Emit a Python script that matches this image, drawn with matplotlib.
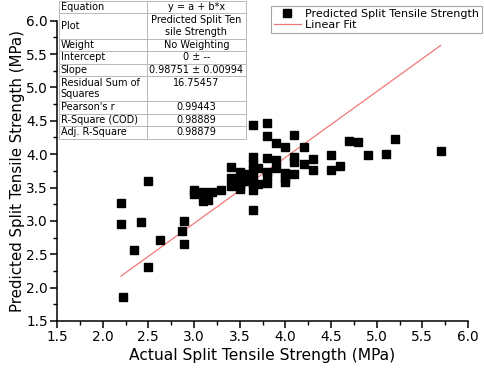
import numpy as np
import matplotlib
matplotlib.use("Agg")
import matplotlib.pyplot as plt
from matplotlib.table import Table

# data
actual = [2.2, 2.2, 2.22, 2.34, 2.42, 2.5, 2.5, 2.63, 2.87, 2.89, 2.89,
          3.0, 3.0, 3.1, 3.1, 3.15, 3.2, 3.3,
          3.4, 3.4, 3.4,
          3.5, 3.5, 3.5, 3.5,
          3.59, 3.59,
          3.65, 3.65, 3.65, 3.65, 3.65, 3.65, 3.65, 3.65,
          3.7, 3.7,
          3.8, 3.8, 3.8, 3.8, 3.8, 3.8,
          3.9, 3.9, 3.9,
          4.0, 4.0, 4.0, 4.0,
          4.1, 4.1, 4.1, 4.1,
          4.2, 4.2,
          4.3, 4.3,
          4.5, 4.5,
          4.6, 4.7, 4.8, 4.9, 5.1, 5.2, 5.7]
predicted = [3.27, 2.96, 1.86, 2.56, 2.98, 3.60, 2.31, 2.71, 2.85, 3.00, 2.66,
             3.46, 3.41, 3.44, 3.30, 3.31, 3.44, 3.46,
             3.81, 3.64, 3.52,
             3.74, 3.64, 3.53, 3.48,
             3.71, 3.60,
             4.43, 3.96, 3.86, 3.76, 3.66, 3.56, 3.46, 3.16,
             3.79, 3.56,
             4.46, 4.27, 3.94, 3.74, 3.67, 3.57,
             4.16, 3.91, 3.80,
             4.10, 3.72, 3.65, 3.59,
             4.28, 3.96, 3.89, 3.71,
             4.11, 3.86,
             3.93, 3.77,
             3.99, 3.77,
             3.82, 4.20, 4.18, 3.99, 4.00, 4.23, 4.05]
slope = 0.98751

stat_names = ["Equation", "Plot", "Weight", "Intercept", "Slope",
              "Residual Sum of\nSquares", "Pearson's r", "R-Square (COD)", "Adj. R-Square"]
stat_values = ["y = a + b*x", "Predicted Split Ten\nsile Strength", "No Weighting", "0 \u00b1 --",
               "0.98751 \u00b1 0.00994", "16.75457\n", "0.99443", "0.98889", "0.98879"]
row_units = [1, 2, 1, 1, 1, 2, 1, 1, 1]

plt.rcParams['font.family'] = 'DejaVu Sans'

fig = plt.figure(figsize=(4.84, 3.73), dpi=100)
ax = fig.add_axes([57/484, 1-321/373, (468-57)/484, (321-20.7)/373])

ax.plot(actual, predicted, 's', color='black', markersize=6.2, linestyle='none',
        label='Predicted Split Tensile Strength', zorder=3)
xf = np.array([min(actual), max(actual)])
ax.plot(xf, slope*xf, color='#f27878', linewidth=0.9, label='Linear Fit', zorder=2)

ax.set_xlim(1.5, 6.0)
ax.set_ylim(1.5, 6.0)
ax.set_xticks(np.arange(1.5, 6.01, 0.5))
ax.set_yticks(np.arange(1.5, 6.01, 0.5))
ax.set_xticks(np.arange(1.75, 6.0, 0.5), minor=True)
ax.set_yticks(np.arange(1.75, 6.0, 0.5), minor=True)
ax.spines['top'].set_visible(False)
ax.spines['right'].set_visible(False)
ax.spines['left'].set_linewidth(1.1)
ax.spines['bottom'].set_linewidth(1.1)
ax.tick_params(which='major', direction='out', length=5, width=1.1, labelsize=9.8, pad=1.5)
ax.tick_params(which='minor', direction='out', length=3, width=1.0)
ax.set_xlabel('Actual Split Tensile Strength (MPa)', fontsize=11.2, labelpad=3)
ax.set_ylabel('Predicted Split Tensile Strength (MPa)', fontsize=10.8, labelpad=1)

leg = ax.legend(loc='upper right', bbox_to_anchor=(482/484, 1-6/373),
                bbox_transform=fig.transFigure, fontsize=8.0, frameon=True,
                fancybox=False, numpoints=1, handlelength=2.5, borderpad=0.25,
                labelspacing=0.1, handletextpad=0.35, borderaxespad=0)
leg.get_frame().set_edgecolor('#909090')
leg.get_frame().set_linewidth(0.8)

# fit statistics table
tax = fig.add_axes([59/484, 1-138.5/373, (246-59)/484, 137.5/373])
tax.axis('off')
tab = Table(tax, bbox=[0, 0, 1, 1])
total = sum(row_units)
for i, (name, val, u) in enumerate(zip(stat_names, stat_values, row_units)):
    h = u / total
    c1 = tab.add_cell(i, 0, 0.47, h, text=name, loc='left', edgecolor='#b8b8b8')
    c2 = tab.add_cell(i, 1, 0.53, h, text=val, loc='center', edgecolor='#b8b8b8')
    c1.PAD = 0.02
    for c in (c1, c2):
        c.set_linewidth(0.7)
        c.get_text().set_fontsize(7.0)
tab.auto_set_font_size(False)
tax.add_table(tab)

fig.savefig('out.png', dpi=100)
